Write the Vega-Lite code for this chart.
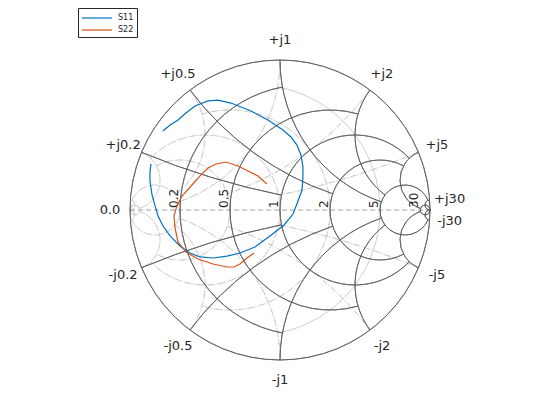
{
  "$schema": "https://vega.github.io/schema/vega-lite/v6.json",
  "width": 560,
  "height": 420,
  "autosize": "none",
  "padding": 0,
  "config": {"view": {"stroke": null}, "font": "DejaVu Sans"},
  "datasets": {
    "grid": [
      {"fam": "Z", "cx": 0, "cy": 0, "rad": 1, "a0": 0, "a1": 6.28319},
      {"fam": "Z", "cx": 0.16667, "cy": 0, "rad": 0.83333, "a0": -2.96027, "a1": -0.18132},
      {"fam": "Z", "cx": 0.33333, "cy": 0, "rad": 0.66667, "a0": -3.42538, "a1": 0.28379},
      {"fam": "Z", "cx": 0.5, "cy": 0, "rad": 0.5, "a0": -3.95137, "a1": 0.80978},
      {"fam": "Z", "cx": 0.66667, "cy": 0, "rad": 0.33333, "a0": -3.63155, "a1": 0.48996},
      {"fam": "Z", "cx": 0.83333, "cy": 0, "rad": 0.16667, "a0": -4.31759, "a1": 1.176},
      {"fam": "Z", "cx": 0.96774, "cy": 0, "rad": 0.032258, "a0": 0, "a1": 6.28319},
      {"fam": "Z", "cx": 1, "cy": 5, "rad": 5, "a0": -2.94225, "a1": -2.7468},
      {"fam": "Z", "cx": 1, "cy": 2, "rad": 2, "a0": -2.81129, "a1": -2.2143},
      {"fam": "Z", "cx": 1, "cy": 1, "rad": 1, "a0": -2.81129, "a1": -1.5708},
      {"fam": "Z", "cx": 1, "cy": 0.5, "rad": 0.5, "a0": -2.49809, "a1": -0.9273},
      {"fam": "Z", "cx": 1, "cy": 0.2, "rad": 0.2, "a0": -2.82177, "a1": -0.3948},
      {"fam": "Z", "cx": 1, "cy": 0.033333, "rad": 0.033333, "a0": -3.14159, "a1": -0.06657},
      {"fam": "Z", "cx": 1, "cy": -5, "rad": 5, "a0": 5.88839, "a1": 6.08384},
      {"fam": "Z", "cx": 1, "cy": -2, "rad": 2, "a0": 5.35589, "a1": 5.95288},
      {"fam": "Z", "cx": 1, "cy": -1, "rad": 1, "a0": 4.71239, "a1": 5.95288},
      {"fam": "Z", "cx": 1, "cy": -0.5, "rad": 0.5, "a0": 4.06889, "a1": 5.63968},
      {"fam": "Z", "cx": 1, "cy": -0.2, "rad": 0.2, "a0": 3.53639, "a1": 5.96336},
      {"fam": "Z", "cx": 1, "cy": -0.033333, "rad": 0.033333, "a0": 3.20816, "a1": 6.28319},
      {"fam": "Y", "cx": -0.16667, "cy": 0, "rad": 0.83333, "a0": 0.18132, "a1": 2.96027},
      {"fam": "Y", "cx": -0.33333, "cy": 0, "rad": 0.66667, "a0": -0.28379, "a1": 3.42538},
      {"fam": "Y", "cx": -0.5, "cy": 0, "rad": 0.5, "a0": -0.80978, "a1": 3.95137},
      {"fam": "Y", "cx": -0.66667, "cy": 0, "rad": 0.33333, "a0": -0.48996, "a1": 3.63155},
      {"fam": "Y", "cx": -0.83333, "cy": 0, "rad": 0.16667, "a0": -1.176, "a1": 4.31759},
      {"fam": "Y", "cx": -0.96774, "cy": 0, "rad": 0.032258, "a0": 0, "a1": 6.28319},
      {"fam": "Y", "cx": -1, "cy": 5, "rad": 5, "a0": 2.7468, "a1": 2.94225},
      {"fam": "Y", "cx": -1, "cy": 2, "rad": 2, "a0": 2.2143, "a1": 2.81129},
      {"fam": "Y", "cx": -1, "cy": 1, "rad": 1, "a0": 1.5708, "a1": 2.81129},
      {"fam": "Y", "cx": -1, "cy": 0.5, "rad": 0.5, "a0": 0.9273, "a1": 2.49809},
      {"fam": "Y", "cx": -1, "cy": 0.2, "rad": 0.2, "a0": 0.3948, "a1": 2.82177},
      {"fam": "Y", "cx": -1, "cy": 0.033333, "rad": 0.033333, "a0": 0.06657, "a1": 3.14159},
      {"fam": "Y", "cx": -1, "cy": -5, "rad": 5, "a0": -6.08384, "a1": -5.88839},
      {"fam": "Y", "cx": -1, "cy": -2, "rad": 2, "a0": -5.95288, "a1": -5.35589},
      {"fam": "Y", "cx": -1, "cy": -1, "rad": 1, "a0": -5.95288, "a1": -4.71239},
      {"fam": "Y", "cx": -1, "cy": -0.5, "rad": 0.5, "a0": -5.63968, "a1": -4.06889},
      {"fam": "Y", "cx": -1, "cy": -0.2, "rad": 0.2, "a0": -5.96336, "a1": -3.53639},
      {"fam": "Y", "cx": -1, "cy": -0.033333, "rad": 0.033333, "a0": -6.28319, "a1": -3.20816}
    ],
    "axisline": [{"x0": -1, "x1": 1, "y0": 0}],
    "rlabels": [
      {"t": "0.2", "re": -0.66667, "im": 0},
      {"t": "0.5", "re": -0.33333, "im": 0},
      {"t": "1", "re": 0, "im": 0},
      {"t": "2", "re": 0.33333, "im": 0},
      {"t": "5", "re": 0.66667, "im": 0},
      {"t": "30", "re": 0.93548, "im": 0}
    ],
    "xlabels": [
      {"t": "+j1", "ang": 0},
      {"t": "+j0.5", "ang": -0.6435},
      {"t": "+j0.2", "ang": -1.17601},
      {"t": "0.0", "ang": -1.5708},
      {"t": "+j2", "ang": 0.6435},
      {"t": "+j5", "ang": 1.17601},
      {"t": "+j30", "ang": 1.50415},
      {"t": "-j0.2", "ang": 4.3176},
      {"t": "-j0.5", "ang": 3.78509},
      {"t": "-j1", "ang": 3.14159},
      {"t": "-j2", "ang": 2.49809},
      {"t": "-j5", "ang": 1.96558},
      {"t": "-j30", "ang": 1.63744}
    ],
    "curves": [
      {"s": "S11", "i": 0, "re": -0.78, "im": 0.527},
      {"s": "S11", "i": 1, "re": -0.733, "im": 0.567},
      {"s": "S11", "i": 2, "re": -0.68, "im": 0.6},
      {"s": "S11", "i": 3, "re": -0.627, "im": 0.647},
      {"s": "S11", "i": 4, "re": -0.567, "im": 0.693},
      {"s": "S11", "i": 5, "re": -0.48, "im": 0.727},
      {"s": "S11", "i": 6, "re": -0.413, "im": 0.733},
      {"s": "S11", "i": 7, "re": -0.327, "im": 0.713},
      {"s": "S11", "i": 8, "re": -0.193, "im": 0.66},
      {"s": "S11", "i": 9, "re": -0.08, "im": 0.6},
      {"s": "S11", "i": 10, "re": 0.02, "im": 0.533},
      {"s": "S11", "i": 11, "re": 0.073, "im": 0.487},
      {"s": "S11", "i": 12, "re": 0.113, "im": 0.433},
      {"s": "S11", "i": 13, "re": 0.14, "im": 0.367},
      {"s": "S11", "i": 14, "re": 0.153, "im": 0.287},
      {"s": "S11", "i": 15, "re": 0.153, "im": 0.22},
      {"s": "S11", "i": 16, "re": 0.147, "im": 0.133},
      {"s": "S11", "i": 17, "re": 0.12, "im": 0.06},
      {"s": "S11", "i": 18, "re": 0.087, "im": -0.027},
      {"s": "S11", "i": 19, "re": 0.027, "im": -0.1},
      {"s": "S11", "i": 20, "re": -0.067, "im": -0.173},
      {"s": "S11", "i": 21, "re": -0.167, "im": -0.247},
      {"s": "S11", "i": 22, "re": -0.267, "im": -0.287},
      {"s": "S11", "i": 23, "re": -0.353, "im": -0.307},
      {"s": "S11", "i": 24, "re": -0.447, "im": -0.32},
      {"s": "S11", "i": 25, "re": -0.533, "im": -0.313},
      {"s": "S11", "i": 26, "re": -0.6, "im": -0.287},
      {"s": "S11", "i": 27, "re": -0.667, "im": -0.24},
      {"s": "S11", "i": 28, "re": -0.733, "im": -0.173},
      {"s": "S11", "i": 29, "re": -0.78, "im": -0.107},
      {"s": "S11", "i": 30, "re": -0.813, "im": -0.04},
      {"s": "S11", "i": 31, "re": -0.833, "im": 0.027},
      {"s": "S11", "i": 32, "re": -0.853, "im": 0.1},
      {"s": "S11", "i": 33, "re": -0.867, "im": 0.193},
      {"s": "S11", "i": 34, "re": -0.867, "im": 0.253},
      {"s": "S11", "i": 35, "re": -0.86, "im": 0.307},
      {"s": "S22", "i": 0, "re": -0.087, "im": 0.173},
      {"s": "S22", "i": 1, "re": -0.147, "im": 0.227},
      {"s": "S22", "i": 2, "re": -0.213, "im": 0.26},
      {"s": "S22", "i": 3, "re": -0.28, "im": 0.293},
      {"s": "S22", "i": 4, "re": -0.36, "im": 0.32},
      {"s": "S22", "i": 5, "re": -0.427, "im": 0.307},
      {"s": "S22", "i": 6, "re": -0.48, "im": 0.28},
      {"s": "S22", "i": 7, "re": -0.533, "im": 0.227},
      {"s": "S22", "i": 8, "re": -0.593, "im": 0.16},
      {"s": "S22", "i": 9, "re": -0.653, "im": 0.093},
      {"s": "S22", "i": 10, "re": -0.687, "im": 0.027},
      {"s": "S22", "i": 11, "re": -0.707, "im": -0.04},
      {"s": "S22", "i": 12, "re": -0.7, "im": -0.12},
      {"s": "S22", "i": 13, "re": -0.68, "im": -0.213},
      {"s": "S22", "i": 14, "re": -0.627, "im": -0.28},
      {"s": "S22", "i": 15, "re": -0.547, "im": -0.327},
      {"s": "S22", "i": 16, "re": -0.447, "im": -0.36},
      {"s": "S22", "i": 17, "re": -0.353, "im": -0.38},
      {"s": "S22", "i": 18, "re": -0.307, "im": -0.38},
      {"s": "S22", "i": 19, "re": -0.267, "im": -0.36},
      {"s": "S22", "i": 20, "re": -0.22, "im": -0.32},
      {"s": "S22", "i": 21, "re": -0.173, "im": -0.287}
    ]
  },
  "layer": [
    {
      "data": {"name": "grid"},
      "transform": [{"filter": "datum.fam == 'Y'"}],
      "mark": {"type": "arc", "filled": false, "stroke": "#c8c8c8", "strokeWidth": 0.8, "strokeDash": [6, 2, 1, 2]},
      "encoding": {
        "x": {"field": "cx", "type": "quantitative", "scale": {"domain": [-1, 1], "range": [130, 430]}, "axis": null},
        "y": {"field": "cy", "type": "quantitative", "scale": {"domain": [-1, 1], "range": [360, 60]}, "axis": null},
        "radius": {"field": "rad", "type": "quantitative", "scale": {"type": "linear", "domain": [0, 1], "range": [0, 150]}},
        "radius2": {"field": "rad"},
        "theta": {"field": "a0", "type": "quantitative", "scale": null},
        "theta2": {"field": "a1"}
      }
    },
    {
      "data": {"name": "axisline"},
      "mark": {"type": "rule", "stroke": "#8c8c8c", "strokeWidth": 0.8, "strokeDash": [5, 3]},
      "encoding": {
        "x": {"field": "x0", "type": "quantitative"},
        "x2": {"field": "x1"},
        "y": {"field": "y0", "type": "quantitative"}
      }
    },
    {
      "data": {"name": "grid"},
      "transform": [{"filter": "datum.fam == 'Z'"}],
      "mark": {"type": "arc", "filled": false, "stroke": "#5c5c5c", "strokeWidth": 0.8},
      "encoding": {
        "x": {"field": "cx", "type": "quantitative"},
        "y": {"field": "cy", "type": "quantitative"},
        "radius": {"field": "rad", "type": "quantitative"},
        "radius2": {"field": "rad"},
        "theta": {"field": "a0", "type": "quantitative", "scale": null},
        "theta2": {"field": "a1"}
      }
    },
    {
      "data": {"name": "rlabels"},
      "mark": {"type": "text", "angle": 270, "align": "left", "baseline": "alphabetic", "dx": 2, "dy": -2, "fontSize": 12, "color": "#262626"},
      "encoding": {
        "x": {"field": "re", "type": "quantitative"},
        "y": {"field": "im", "type": "quantitative"},
        "text": {"field": "t"}
      }
    },
    {
      "data": {"name": "xlabels"},
      "mark": {"type": "text", "radius": 170, "align": "center", "baseline": "middle", "fontSize": 13, "color": "#262626"},
      "encoding": {
        "theta": {"field": "ang", "type": "quantitative", "scale": null},
        "text": {"field": "t"}
      }
    },
    {
      "data": {"name": "curves"},
      "mark": {"type": "line", "strokeWidth": 1.2},
      "encoding": {
        "x": {"field": "re", "type": "quantitative"},
        "y": {"field": "im", "type": "quantitative"},
        "order": {"field": "i", "type": "quantitative"},
        "color": {
          "field": "s", "type": "nominal",
          "scale": {"domain": ["S11", "S22"], "range": ["#0072BD", "#D95319"]},
          "legend": {"orient": "none", "legendX": 78, "legendY": 8, "title": null, "symbolType": "M-2.5,0H2.5", "symbolSize": 144, "symbolOffset": 9, "symbolStrokeWidth": 1.2, "symbolFillColor": "transparent", "labelOffset": 14, "labelFontSize": 8, "labelFont": "DejaVu Sans", "labelColor": "#262626", "strokeColor": "#262626", "fillColor": "white", "padding": 3, "rowPadding": 1}
        }
      }
    }
  ]
}
